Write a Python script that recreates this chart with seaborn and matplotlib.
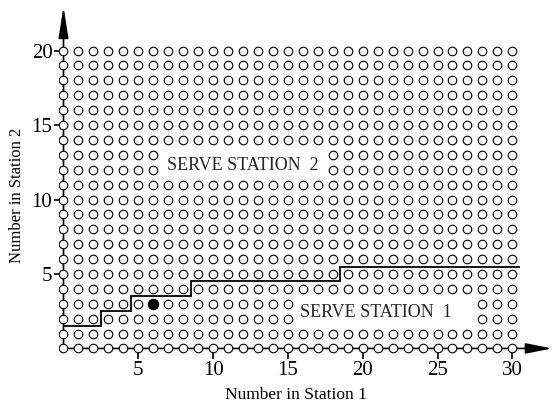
import matplotlib
matplotlib.use("Agg")
import matplotlib.pyplot as plt
import pandas as pd
import seaborn as sns

# State space of the two-station queue
n1_states = list(range(0, 31))
n2_states = list(range(0, 21))

# Switching curve: threshold in station 2 over column edges in station 1
curve_edges = [0, 2.5, 4.5, 8.5, 18.5, 30.5]
curve_levels = [1.5, 2.5, 3.5, 4.5, 5.5]

# Current state of the system
current_n1 = [6]
current_n2 = [3]

x_ticks = [5, 10, 15, 20, 25, 30]
y_ticks = [5, 10, 15, 20]

# Region labels and the block of states each label sits over
region_texts = ["SERVE STATION  2", "SERVE STATION  1"]
region_x = [12, 20.9]
region_y = [12, 2.1]
region_cols = [(7, 17), (16, 27)]
region_rows = [(12, 13), (2, 3)]


def covered(i, j):
    for (c0, c1), (r0, r1) in zip(region_cols, region_rows):
        if c0 <= i <= c1 and r0 <= j <= r1:
            return True
    return False


states = pd.DataFrame(
    [(i, j) for j in n2_states for i in n1_states if not covered(i, j)],
    columns=["n1", "n2"],
)
current = pd.DataFrame({"n1": current_n1, "n2": current_n2})

sns.set_theme(style="white")
plt.rcParams["font.family"] = ["Liberation Serif", "DejaVu Serif"]

fig = plt.figure(figsize=(5.53, 4.08), dpi=100)
ax = fig.add_axes([0.1067, 0.1350, 0.8928, 0.8542])
ax.set_xlim(-0.3, 32.7)
ax.set_ylim(-0.3, 23.1)

# Axes drawn as arrows from the origin
arrow_kw = dict(color="black", lw=1.2, shrinkA=0, shrinkB=0)
ax.annotate("", xy=(32.65, 0), xytext=(0, 0), annotation_clip=False,
            arrowprops=dict(arrowstyle="-|>,head_length=1.6,head_width=0.32",
                            mutation_scale=10, **arrow_kw), zorder=1)
ax.annotate("", xy=(0, 22.95), xytext=(0, 0), annotation_clip=False,
            arrowprops=dict(arrowstyle="-|>,head_length=1.9,head_width=0.3",
                            mutation_scale=10, **arrow_kw), zorder=1)

# Switching curve
ax.stairs(curve_levels, curve_edges, baseline=None, color="black",
          lw=1.3, zorder=1)

# Grid of states
sns.scatterplot(data=states, x="n1", y="n2", ax=ax, marker="o", s=38,
                facecolor="white", edgecolor="black", linewidth=0.8,
                zorder=3, legend=False)
sns.scatterplot(data=current, x="n1", y="n2", ax=ax, marker="o", s=60,
                color="black", edgecolor="black", linewidth=0.5,
                zorder=4, legend=False)

for t, x, y in zip(region_texts, region_x, region_y):
    ax.text(x, y, t, ha="center", va="baseline", fontsize=13, zorder=5)

for side in ["top", "right"]:
    ax.spines[side].set_visible(False)
for side in ["bottom", "left"]:
    ax.spines[side].set_position(("data", 0))
    ax.spines[side].set_visible(False)

ax.set_xticks(x_ticks)
ax.set_yticks(y_ticks)
ax.tick_params(axis="x", direction="out", length=8, width=1.2, pad=1,
               labelsize=15, colors="black", bottom=True)
ax.tick_params(axis="y", direction="out", length=6.5, width=1.2, pad=1.5,
               labelsize=15, colors="black", left=True)

ax.set_xlabel("Number in Station 1", fontsize=12.5, color="black")
ax.set_ylabel("Number in Station 2", fontsize=12, color="black")
ax.xaxis.set_label_coords(0.480, -0.133)
ax.xaxis.label.set_va("baseline")
ax.yaxis.set_label_coords(-0.0764, 0.453)
ax.yaxis.label.set_va("baseline")

fig.savefig("out.png", dpi=100)
